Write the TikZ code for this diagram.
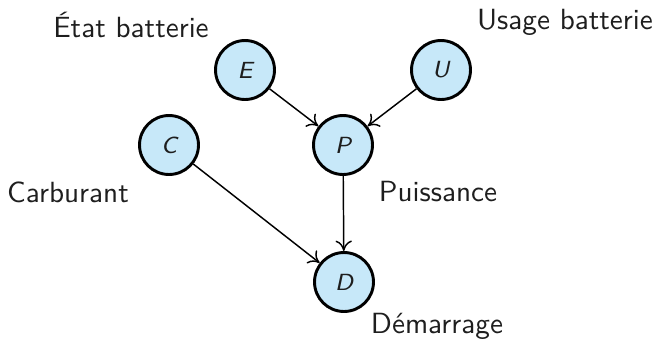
\documentclass[tikz,border=0pt]{standalone}
\usepackage{fontspec}
\renewcommand{\familydefault}{\sfdefault}
\usetikzlibrary{arrows.meta}
\definecolor{nodeblue}{RGB}{199,232,249}
\definecolor{txt}{RGB}{30,30,30}
\begin{document}
\begin{tikzpicture}[x=0.3425pt,y=-0.3425pt,
  var/.style={circle,draw=black,fill=nodeblue,line width=1pt,minimum size=20.2pt,inner sep=0pt,font=\footnotesize\sffamily\itshape,text=txt},
  lbl/.style={font=\sffamily,text=txt},
  arr/.style={-{To[length=3.6pt,width=5.6pt]},line width=0.5pt}]
\useasboundingbox (0,0) rectangle (657,344);
\node[var] (E) at (245,70) {E};
\node[var] (U) at (441,70) {U};
\node[var] (C) at (169,145) {C};
\node[var] (P) at (343,145) {P};
\node[var] (D) at (344,282) {D};
\node[lbl] (lE) at (131,25) {État batterie};
\node[lbl] (lU) at (565,22) {Usage batterie};
\node[lbl] (lC) at (68,192) {Carburant};
\node[lbl] (lP) at (438,192) {Puissance};
\node[lbl] (lD) at (437,326) {Démarrage};
\draw[arr] (E) -- (P);
\draw[arr] (U) -- (P);
\draw[arr] (C) -- (D);
\draw[arr] (P) -- (D);
\end{tikzpicture}
\end{document}
